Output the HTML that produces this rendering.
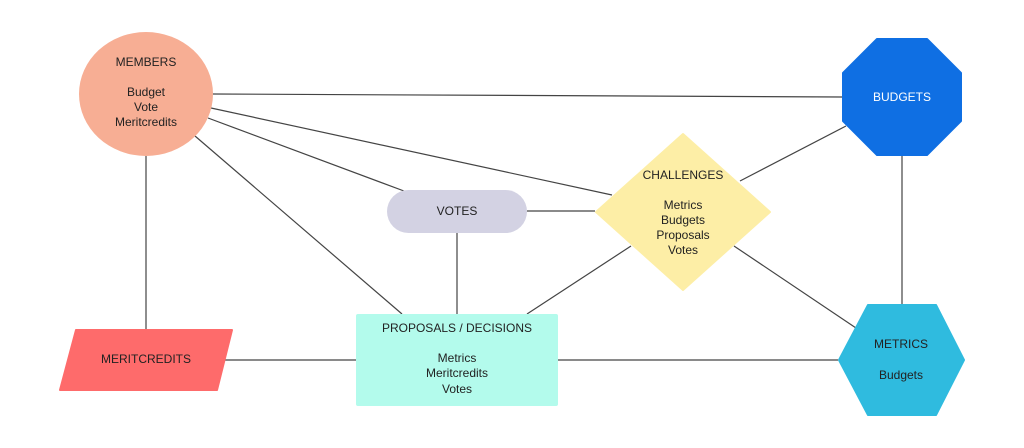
<!DOCTYPE html>
<html><head><meta charset="utf-8"><style>
html,body{margin:0;padding:0;background:#fff;width:1024px;height:448px;overflow:hidden}
svg text{font-family:"Liberation Sans",sans-serif;font-size:12px;fill:#222;text-anchor:middle}
</style></head><body>
<svg width="1024" height="448" viewBox="0 0 1024 448" xmlns="http://www.w3.org/2000/svg">
<g stroke="#444" stroke-width="1.2" fill="none">
<line x1="213" y1="94" x2="842" y2="97"/>
<line x1="211" y1="108" x2="612" y2="195"/>
<line x1="208" y1="118" x2="404" y2="191"/>
<line x1="195" y1="136" x2="402" y2="314"/>
<line x1="146" y1="156" x2="146" y2="330"/>
<line x1="457" y1="233" x2="457" y2="314"/>
<line x1="527" y1="211" x2="595" y2="211"/>
<line x1="740" y1="181" x2="846" y2="126"/>
<line x1="631" y1="246" x2="527" y2="314"/>
<line x1="734" y1="246" x2="856" y2="328"/>
<line x1="902" y1="155" x2="902" y2="304"/>
<line x1="225" y1="360" x2="356" y2="360"/>
<line x1="558" y1="360" x2="838" y2="360"/>
</g>
<ellipse cx="146" cy="94" rx="67" ry="62" fill="#f7ae94"/>
<rect x="387" y="190" width="140" height="43" rx="21.5" fill="#d3d2e3"/>
<rect x="356" y="314" width="202" height="92" rx="2" fill="#b3fbec"/>
<polygon points="76,330 232,330 217,390 60,390" fill="#fe6b6b" stroke="#fe6b6b" stroke-width="2" stroke-linejoin="round"/>
<polygon points="683,134 770,212 683,290 596,212" fill="#fdeea6" stroke="#fdeea6" stroke-width="2" stroke-linejoin="round"/>
<polygon points="877,39 927,39 961,73 961,121 927,155 877,155 843,121 843,73" fill="#0f6fe3" stroke="#0f6fe3" stroke-width="2" stroke-linejoin="round"/>
<polygon points="868,305 936,305 964,360 936,415 868,415 839,360" fill="#2fbbdf" stroke="#2fbbdf" stroke-width="2" stroke-linejoin="round"/>
<text x="146" y="66">MEMBERS</text>
<text x="146" y="96">Budget</text>
<text x="146" y="111">Vote</text>
<text x="146" y="126">Meritcredits</text>
<text x="457" y="215">VOTES</text>
<text x="457" y="332">PROPOSALS / DECISIONS</text>
<text x="457" y="362">Metrics</text>
<text x="457" y="377">Meritcredits</text>
<text x="457" y="393">Votes</text>
<text x="146" y="363">MERITCREDITS</text>
<text x="683" y="179">CHALLENGES</text>
<text x="683" y="209">Metrics</text>
<text x="683" y="224">Budgets</text>
<text x="683" y="239">Proposals</text>
<text x="683" y="254">Votes</text>
<text x="902" y="101" style="fill:#fff">BUDGETS</text>
<text x="901" y="348">METRICS</text>
<text x="901" y="379">Budgets</text>
</svg>
</body></html>
